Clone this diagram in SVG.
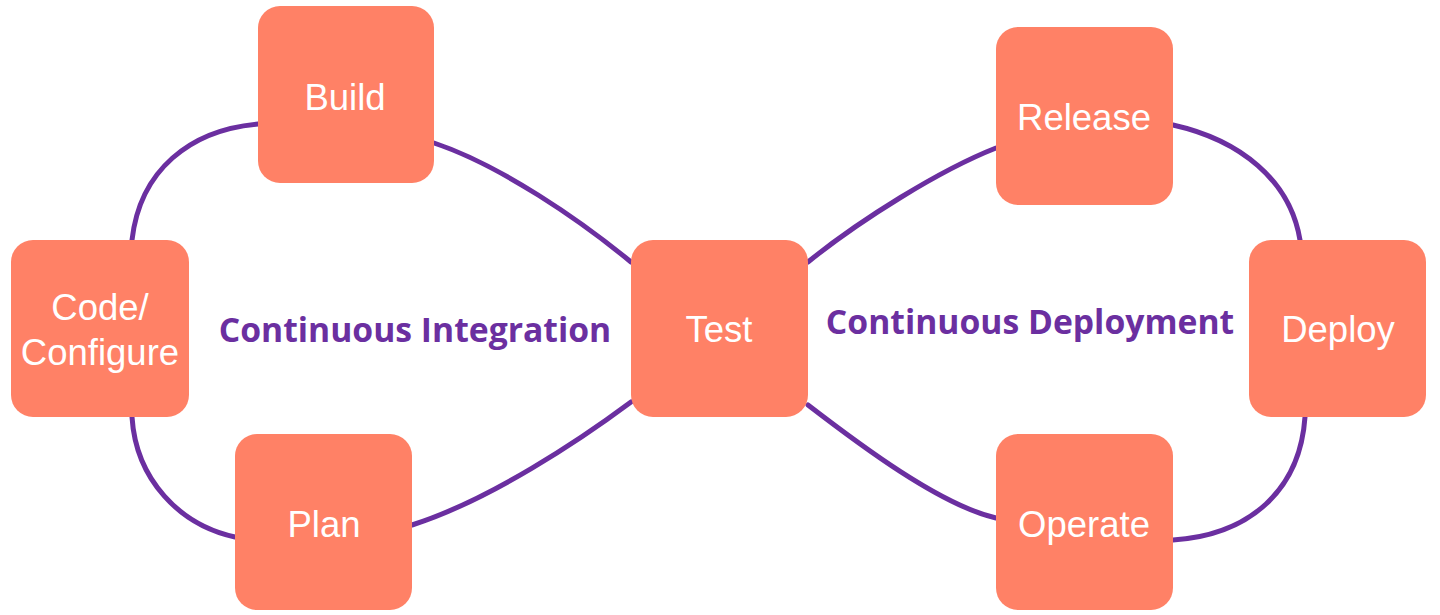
<svg xmlns="http://www.w3.org/2000/svg" width="1440" height="615" viewBox="0 0 1440 615">
<style>
.node rect{fill:#FF8166;}
.node text{fill:#ffffff;font-family:"Liberation Sans",Arial,sans-serif;font-size:36.5px;text-anchor:middle;}
.conn path{fill:none;stroke:#6B2FA0;stroke-width:5;stroke-linecap:round;}
.lbl{fill:#6B2FA0;font-family:"Open Sans",sans-serif;font-weight:bold;font-size:33.7px;text-anchor:middle;}
</style>
<rect width="1440" height="615" fill="#ffffff"/>
<g class="conn">
<path d="M258,124 C190,130 140,170 132,240"/>
<path d="M434,143 C500,165 580,220 631,262"/>
<path d="M132,417 C136,480 180,525 235,537"/>
<path d="M412,525 C490,500 580,440 631,402"/>
<path d="M808,262 C860,220 940,170 996,148"/>
<path d="M1173,125 C1240,140 1290,180 1300,240"/>
<path d="M1305,417 C1300,490 1250,535 1173,540"/>
<path d="M808,405 C860,445 940,505 996,518"/>
</g>
<g id="build" class="node"><rect x="258" y="6" width="176" height="177" rx="22"/><text x="345" y="110">Build</text></g>
<g id="code" class="node"><rect x="11" y="240" width="178" height="177" rx="22"/><text x="100" y="320">Code/</text><text x="100" y="365">Configure</text></g>
<g id="plan" class="node"><rect x="235" y="434" width="177" height="176" rx="22"/><text x="324" y="537">Plan</text></g>
<g id="test" class="node"><rect x="631" y="240" width="177" height="177" rx="22"/><text x="719" y="342">Test</text></g>
<g id="release" class="node"><rect x="996" y="27" width="177" height="178" rx="22"/><text x="1084" y="130">Release</text></g>
<g id="deploy" class="node"><rect x="1249" y="240" width="177" height="177" rx="22"/><text x="1338" y="342">Deploy</text></g>
<g id="operate" class="node"><rect x="996" y="434" width="177" height="176" rx="22"/><text x="1084" y="537">Operate</text></g>
<text class="lbl" x="415" y="342">Continuous Integration</text>
<text class="lbl" x="1030" y="334">Continuous Deployment</text>
</svg>
